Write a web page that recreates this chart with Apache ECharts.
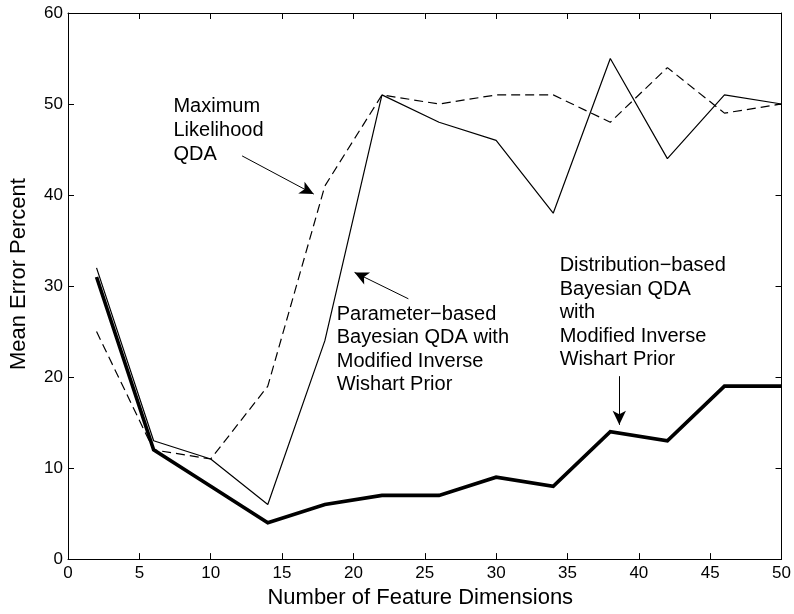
<!DOCTYPE html>
<html>
<head>
<meta charset="utf-8">
<script src="https://cdn.jsdelivr.net/npm/echarts@6/dist/echarts.min.js"></script>
<style>
html,body{margin:0;padding:0;background:#fff;}
#chart{width:794px;height:614px;}
</style>
</head>
<body>
<div id="chart"></div>
<script>
// ---- data ----
const dims = [2, 6, 10, 14, 18, 22, 26, 30, 34, 38, 42, 46, 50];
const paramBased = [32, 13, 11, 6, 24, 51, 48, 46, 38, 55, 44, 51, 50];
const maxLik = [25, 12, 11, 19, 41, 51, 50, 51, 51, 48, 54, 49, 50];
const distBased = [31, 12, 8, 4, 6, 7, 7, 9, 8, 14, 13, 19, 19];
const xTicks = [0, 5, 10, 15, 20, 25, 30, 35, 40, 45, 50];
const yTicks = [0, 10, 20, 30, 40, 50, 60];
const xTitle = 'Number of Feature Dimensions';
const yTitle = 'Mean Error Percent';
const annoTexts = [
  ['Maximum', 'Likelihood', 'QDA'],
  ['Parameter\u2212based', 'Bayesian QDA with', 'Modified Inverse', 'Wishart Prior'],
  ['Distribution\u2212based', 'Bayesian QDA', 'with', 'Modified Inverse', 'Wishart Prior']
];
// annotation anchors (data units): text top-left, arrow start, arrow tip
const annoAnchors = [[7.39, 51.05], [18.83, 28.2], [34.45, 33.55]];
const arrowStarts = [[12.2, 44.3], [23.85, 28.6], [38.63, 20.1]];
const arrowTips = [[17.22, 40.1], [20.08, 31.5], [38.63, 14.75]];

const FONT = '"Liberation Sans", Arial, Helvetica, sans-serif';
const pair = (xs, ys) => xs.map((x, i) => [x, ys[i]]);

const chart = echarts.init(document.getElementById('chart'), null, {renderer: 'canvas'});

const axisCommon = {
  type: 'value',
  axisLine: {show: true, onZero: false, lineStyle: {color: '#000', width: 1}},
  axisTick: {show: true, inside: true, length: 6, lineStyle: {color: '#000', width: 1}},
  splitLine: {show: false}
};

const option = {
  animation: false,
  backgroundColor: '#fff',
  grid: {left: 66, right: 11, top: 13, bottom: 52},
  xAxis: [
    Object.assign({}, axisCommon, {
      min: xTicks[0], max: xTicks[xTicks.length - 1], interval: xTicks[1] - xTicks[0],
      position: 'bottom',
      axisLabel: {color: '#000', fontSize: 17, fontFamily: FONT, margin: 6},
      name: xTitle, nameLocation: 'middle', nameGap: 15,
      nameTextStyle: {color: '#000', fontSize: 22, fontFamily: FONT, verticalAlign: 'top', padding: [0, 9, 0, 0]}
    }),
    Object.assign({}, axisCommon, {
      min: xTicks[0], max: xTicks[xTicks.length - 1], interval: xTicks[1] - xTicks[0],
      position: 'top', axisLabel: {show: false}
    })
  ],
  yAxis: [
    Object.assign({}, axisCommon, {
      min: yTicks[0], max: yTicks[yTicks.length - 1], interval: yTicks[1] - yTicks[0],
      position: 'left',
      axisLabel: {color: '#000', fontSize: 17, fontFamily: FONT, margin: 5},
      name: yTitle, nameLocation: 'middle', nameGap: 38,
      nameTextStyle: {color: '#000', fontSize: 22, fontFamily: FONT, padding: [0, 0, 0, 24]}
    }),
    Object.assign({}, axisCommon, {
      min: yTicks[0], max: yTicks[yTicks.length - 1], interval: yTicks[1] - yTicks[0],
      position: 'right', axisLabel: {show: false}
    })
  ],
  series: [
    {
      name: 'Maximum Likelihood QDA', type: 'line', data: pair(dims, maxLik),
      symbol: 'none', z: 2,
      lineStyle: {color: '#000', width: 1.2, type: [9, 5]}
    },
    {
      name: 'Parameter-based Bayesian QDA', type: 'line', data: pair(dims, paramBased),
      symbol: 'none', z: 3,
      lineStyle: {color: '#000', width: 1.2, type: 'solid'}
    },
    {
      name: 'Distribution-based Bayesian QDA', type: 'line', data: pair(dims, distBased),
      symbol: 'none', z: 4,
      lineStyle: {color: '#000', width: 3.6, type: 'solid', join: 'miter'},
      markLine: {
        silent: true, animation: false,
        symbol: ['none', 'arrow'], symbolSize: [10, 14],
        label: {show: false},
        lineStyle: {color: '#000', width: 1, type: 'solid'},
        data: arrowStarts.map((s, i) => [{coord: s}, {coord: arrowTips[i]}])
      }
    }
  ]
};
chart.setOption(option);

const lineHeights = [24, 23.5, 23.5];
const graphics = annoTexts.map((lines, i) => {
  const p = chart.convertToPixel({xAxisIndex: 0, yAxisIndex: 0}, annoAnchors[i]);
  return {
    type: 'text', x: p[0], y: p[1], z: 10,
    style: {
      text: lines.join('\n'), fill: '#000', font: '20px ' + FONT,
      lineHeight: lineHeights[i], align: 'left', verticalAlign: 'top'
    }
  };
});
chart.setOption({graphic: graphics});
</script>
</body>
</html>
